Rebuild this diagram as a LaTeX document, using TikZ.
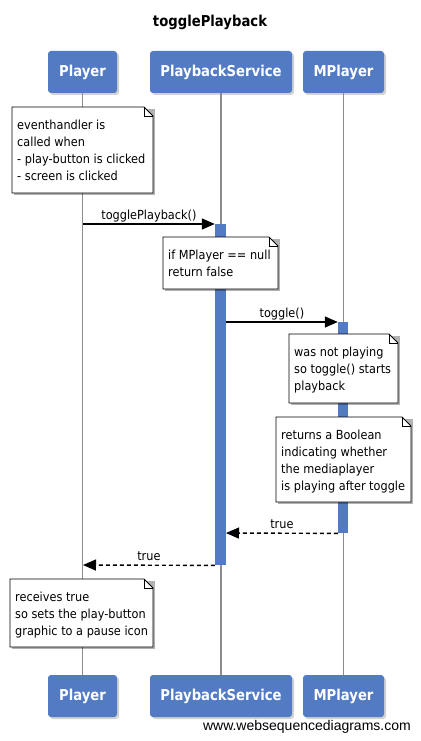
\documentclass[tikz,border=0pt]{standalone}
\usepackage{fontspec}
\newfontfamily\wsd[FakeStretch=0.88]{DejaVu Sans}
\newfontfamily\wsdn[FakeStretch=0.905]{DejaVu Sans}
\newfontfamily\wsdfoot{Liberation Sans}
\usetikzlibrary{arrows.meta,shadows}
\definecolor{wsdblue}{RGB}{82,123,196}
\definecolor{lifegray}{RGB}{140,140,140}
\tikzset{
  hdr/.style={rounded corners=3pt, fill=wsdblue, text=white, inner sep=0pt,
    minimum height=42pt, font=\wsd\bfseries\fontsize{15}{18}\selectfont,
    drop shadow={shadow xshift=2pt, shadow yshift=-2pt, opacity=0.35}},
  lifeline/.style={draw=lifegray, line width=1.6pt},
  actbar/.style={fill=wsdblue, draw=none, inner sep=0pt, anchor=north},
  msg/.style={draw=black, line width=1.4pt, -{Triangle[length=13pt,width=11pt]}},
  retmsg/.style={msg, dash pattern=on 4pt off 3pt},
  lbl/.style={anchor=base, inner sep=0pt, font=\wsdn\fontsize{12.5}{14}\selectfont, yshift=5pt},
  notebd/.style={draw=black, line width=0.9pt, fill=white},
  notetext/.style={anchor=north west, align=left, inner sep=0pt, font=\wsdn\fontsize{12.5}{17}\selectfont},
}
\newcommand\wsdnote[6]{%
  \fill[black,opacity=0.3] ({#2+2},{#3+2}) rectangle ({#4+2},{#5+2});
  \draw[notebd] (#2,#3) -- ({#4-9},#3) -- (#4,{#3+9}) -- (#4,#5) -- (#2,#5) -- cycle;
  \draw[notebd,fill=none] ({#4-9},#3) -- ({#4-9},{#3+9}) -- (#4,{#3+9});
  \node[notetext] (#1) at ({#2+5},{#3+10}) {\strut #6};
}
\begin{document}
\begin{tikzpicture}[x=1pt,y=-1pt]
\useasboundingbox (0,0) rectangle (420,741);
\fill[white] (0,0) rectangle (420,741);

% title
\node[font=\wsd\bfseries\fontsize{15}{18}\selectfont, inner sep=0pt] (title) at (210,22) {togglePlayback};

% headers
\node[hdr, minimum width=69pt] (pT) at (82.5,72) {Player};
\node[hdr, minimum width=142pt] (sT) at (221,72) {PlaybackService};
\node[hdr, minimum width=81pt] (mT) at (343.5,72) {MPlayer};
\node[hdr, minimum width=69pt] (pB) at (82.5,696) {Player};
\node[hdr, minimum width=142pt] (sB) at (221,696) {PlaybackService};
\node[hdr, minimum width=81pt] (mB) at (343.5,696) {MPlayer};

% lifelines
\draw[lifeline] (pT.south) -- (pB.north);
\draw[lifeline] (sT.south) -- (sB.north);
\draw[lifeline] (mT.south) -- (mB.north);

% activation bars
\node[actbar, minimum width=11pt, minimum height=341pt] (aPS) at (220.5,224) {};
\node[actbar, minimum width=10pt, minimum height=211pt] (aMP) at (343,322) {};

% notes
\wsdnote{n1}{12}{107}{153}{193}{eventhandler is\\called when\\- play-button is clicked\\- screen is clicked}
\wsdnote{n2}{163}{237}{278}{289}{if MPlayer == null\\return false}
\wsdnote{n3}{289}{334}{398}{403}{was not playing\\so toggle() starts\\playback}
\wsdnote{n4}{276}{417}{411}{502}{returns a Boolean\\indicating whether\\the mediaplayer\\is playing after toggle}
\wsdnote{n5}{10}{579}{153}{647}{receives true\\so sets the play-button\\graphic to a pause icon}

% messages
\coordinate (m1s) at (83,224);
\draw[msg] (m1s) -- (aPS.north west) node[lbl, midway] {togglePlayback()};
\coordinate (m2s) at (226,322);
\draw[msg] (m2s) -- (aMP.north west) node[lbl, midway] {toggle()};
\coordinate (m3e) at (226,533);
\draw[retmsg] (aMP.south west) -- (m3e) node[lbl, midway] {true};
\coordinate (m4e) at (83,565);
\draw[retmsg] (aPS.south west) -- (m4e) node[lbl, midway] {true};

% footer
\node[anchor=base east, inner sep=0pt, font=\wsdfoot\fontsize{14}{16}\selectfont] (foot) at (411,730) {www.websequencediagrams.com};
\end{tikzpicture}
\end{document}
